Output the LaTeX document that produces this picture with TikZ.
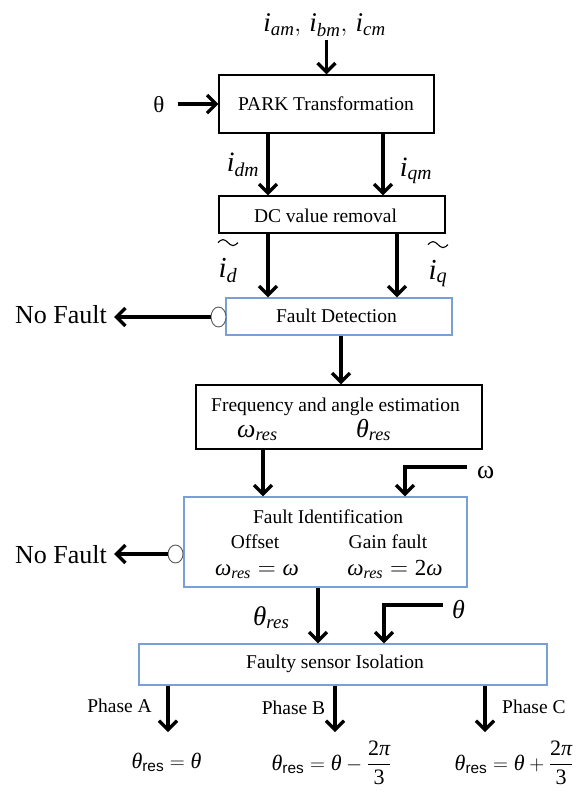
\documentclass[tikz,border=0pt]{standalone}
\usepackage{amsmath}
\usepackage{fontspec}
\setmainfont{Liberation Serif}
\newfontfamily\resfont{Liberation Sans}
\usetikzlibrary{arrows.meta,shapes.geometric}
\definecolor{boxblue}{RGB}{120,160,215}
\newcommand{\setfs}[1]{\fontsize{#1}{#1}\selectfont}
% italic and upright letters taken from the text face inside formulas
\newcommand{\mi}[1]{\text{\itshape #1}}
\newcommand{\mr}[1]{\text{#1}}
\newcommand{\rs}{\text{\resfont res}}

\begin{document}
\begin{tikzpicture}[x=1pt,y=-1pt,
  txt/.style={inner sep=0pt, anchor=base, font=\setfs{19.5}},
  mth/.style={inner sep=0pt, anchor=base, font=\setfs{#1}},
  blk/.style={draw=black, line width=1.3pt, fill=white, inner sep=0pt},
  blu/.style={draw=boxblue, line width=1.2pt, fill=white, inner sep=0pt},
  arr/.style={line width=3.3pt, line join=miter,
    -{Straight Barb[length=9pt,width=18pt]}},
  knob/.style={ellipse, draw=black!65, fill=white, line width=0.9pt,
    inner sep=0pt},
  squiggle/.style={line width=1.1pt},
]
\useasboundingbox (0,0) rectangle (577,792);

% ---- blocks ----
\node[blk, minimum width=215pt, minimum height=58pt] (park) at (326.5,104) {};
\node[blk, minimum width=226pt, minimum height=37pt] (dc)   at (332,214.5) {};
\node[blu, minimum width=226pt, minimum height=37pt] (fd)   at (339,316.5) {};
\node[blk, minimum width=286pt, minimum height=64pt] (freq) at (339,417) {};
\node[blu, minimum width=283pt, minimum height=90pt] (fi)   at (325.5,542) {};
\node[blu, minimum width=408pt, minimum height=41pt] (fsi)  at (343,664.5) {};

% ---- block texts ----
\node[txt] (parkT) at (326,110) {PARK Transformation};
\node[txt] (dcT)   at (325.5,222) {DC value removal};
\node[txt] (fdT)   at (336.5,322.5) {Fault Detection};
\node[txt] (freqT) at (335.5,411) {Frequency and angle estimation};
\node[mth=26, anchor=base west] (wres) at (237,437) {$\mi{ω}_{\mi{res}}$};
\node[mth=26, anchor=base west] (tres) at (356,437) {$\mi{θ}_{\mi{res}}$};
\node[txt] (fiT)   at (328,523) {Fault Identification};
\node[txt] (offT)  at (255,548) {Offset};
\node[txt] (gainT) at (388,548) {Gain fault};
\node[mth=23] (offEq)  at (257,575) {$\mi{ω}_{\mi{res}} = \mi{ω}$};
\node[mth=23] (gainEq) at (395,575) {$\mi{ω}_{\mi{res}} = \mr{2}\mi{ω}$};
\node[txt] (fsiT)  at (335,668) {Faulty sensor Isolation};

% ---- signal labels ----
\node[mth=27] (inputs) at (324.5,32) {$\mi{i}_{\mi{am}},\, \mi{i}_{\mi{bm}},\, \mi{i}_{\mi{cm}}$};
\node[inner sep=0pt, anchor=base, font=\setfs{23}] (thL) at (159,112) {θ};
\node[mth=28] (idm) at (243,171) {$\mi{i}_{\mi{dm}}$};
\node[mth=28] (iqm) at (416,176) {$\mi{i}_{\mi{qm}}$};
\node[mth=29] (idt) at (228,277) {$\mi{i}_{\mi{d}}$};
\node[mth=29] (iqt) at (438,279) {$\mi{i}_{\mi{q}}$};
\draw[squiggle] (idt.north) ++(-10,-15) sin ++(5,-3) cos ++(5,3) sin ++(5,3) cos ++(5,-3);
\draw[squiggle] (iqt.north) ++(-10,-15) sin ++(5,-3) cos ++(5,3) sin ++(5,3) cos ++(5,-3);
\node[inner sep=0pt, anchor=base west, font=\setfs{26}] (omg) at (477,478) {ω};
\node[mth=27, anchor=base west] (tresL) at (253,625) {$\mi{θ}_{\mi{res}}$};
\node[mth=26, anchor=base west] (thR) at (452,618) {$\mi{θ}$};

% ---- fault-free exits ----
\node[knob, minimum width=15pt, minimum height=20pt] (k1) at (218.5,317) {};
\node[knob, minimum width=15pt, minimum height=18pt] (k2) at (175.5,554) {};
\node[inner sep=0pt, anchor=base west, font=\setfs{26}] (nf1) at (15,323) {No Fault};
\node[inner sep=0pt, anchor=base west, font=\setfs{26}] (nf2) at (15,563) {No Fault};

% ---- phase outputs ----
\node[txt, anchor=base east] (phA) at (152,712) {Phase A};
\node[txt] (phB) at (293.5,714) {Phase B};
\node[txt, anchor=base west] (phC) at (502,713) {Phase C};
\node[mth=22] (eqA) at (166.5,768) {$\mi{θ}_{\rs} = \mi{θ}$};
\node[mth=22] (eqB) at (331.5,770) {$\mi{θ}_{\rs} = \mi{θ} - \dfrac{\mr{2}\mi{π}}{\mr{3}}$};
\node[mth=22] (eqC) at (514,770) {$\mi{θ}_{\rs} = \mi{θ} + \dfrac{\mr{2}\mi{π}}{\mr{3}}$};
\coordinate (endA) at (168,732);
\coordinate (endB) at (335,732);
\coordinate (endC) at (485,732);

% ---- connectors ----
\draw[arr] ([yshift=-3pt]park.north |- inputs.south) -- (park.north);
\draw[arr] ([xshift=13pt]thL.east) -- (thL.east -| park.west);
\draw[arr] (park.south -| 268,0) -- (dc.north -| 268,0);
\draw[arr] (park.south -| 383,0) -- (dc.north -| 383,0);
\draw[arr] (dc.south -| 268,0) -- (fd.north -| 268,0);
\draw[arr] (dc.south -| 397,0) -- (fd.north -| 397,0);
\draw[arr] (k1.west) -- ([xshift=7pt]k1.west -| nf1.east);
\draw[arr] (fd.south -| 341,0) -- (freq.north -| 341,0);
\draw[arr] (freq.south -| 263,0) -- (fi.north -| 263,0);
\draw[arr] ([xshift=-10pt]omg.west |- 0,467) -| (fi.north -| 405,0);
\draw[arr] (k2.west) -- ([xshift=7pt]k2.west -| nf2.east);
\draw[arr] (fi.south -| 318,0) -- (fsi.north -| 318,0);
\draw[arr] ([xshift=-9pt]thR.west |- 0,605) -| (fsi.north -| 384,0);
\draw[arr] (fsi.south -| endA) -- (endA);
\draw[arr] (fsi.south -| endB) -- (endB);
\draw[arr] (fsi.south -| endC) -- (endC);
\end{tikzpicture}
\end{document}
